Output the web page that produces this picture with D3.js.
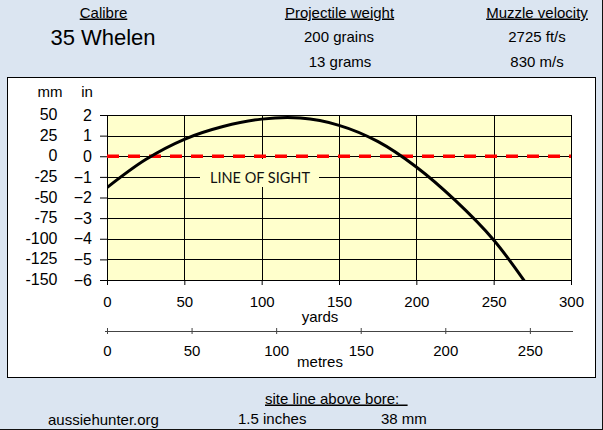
<!DOCTYPE html>
<html>
<head>
<meta charset="utf-8">
<script src="https://cdn.jsdelivr.net/npm/d3@7"></script>
<style>
  body { margin: 0; background: #dbe5f1; }
  svg { display: block; font-family: "Liberation Sans", Arial, sans-serif; }
</style>
</head>
<body>
<svg id="chart" width="603" height="430"></svg>
<script>
// trajectory (inches relative to line of sight)
const rangeYards = [0, 25, 50, 75, 100, 125, 150, 175, 200, 225, 250, 275];
const pathInches = [-1.52, -0.16, 0.82, 1.44, 1.80, 1.85, 1.50, 0.72, -0.52, -2.13, -4.06, -6.6];

const yardTicks = [0, 50, 100, 150, 200, 250, 300];
const metreTicks = [0, 50, 100, 150, 200, 250];
const inchTicks = [2, 1, 0, -1, -2, -3, -4, -5, -6];
const mmLabels = ["50", "25", "0", "-25", "-50", "-75", "-100", "-125", "-150"];

const calibre = "35 Whelen";
const weightLines = ["200 grains", "13 grams"];
const velocityLines = ["2725 ft/s", "830 m/s"];
const sightLine = ["1.5 inches", "38 mm"];

var svg = d3.select("#chart");

// outer frame
svg.append("rect").attr("x", 0).attr("y", 0).attr("width", 603).attr("height", 430).attr("fill", "#dbe5f1");
svg.append("line").attr("x1", 602.5).attr("x2", 602.5).attr("y1", 0).attr("y2", 430).attr("stroke", "#111");
svg.append("line").attr("x1", 0).attr("x2", 603).attr("y1", 429.5).attr("y2", 429.5).attr("stroke", "#111");

// header
function hdr(txt, x, y, size, underline) {
    svg.append("text")
        .attr("x", x).attr("y", y)
        .attr("text-anchor", "middle")
        .attr("font-size", size + "px")
        .attr("fill", "#000")
        .style("text-decoration", underline ? "underline" : null)
        .text(txt);
}
hdr("Calibre", 103.5, 17.5, 15, true);
hdr(calibre, 103, 45, 22, false);
hdr("Projectile weight", 339.5, 17.5, 15, true);
hdr(weightLines[0], 339, 42, 15, false);
hdr(weightLines[1], 340, 67, 15, false);
hdr("Muzzle velocity", 537, 17.5, 15, true);
hdr(velocityLines[0], 537, 42, 15, false);
hdr(velocityLines[1], 537, 67, 15, false);

// white panel
svg.append("rect")
    .attr("x", 7.5).attr("y", 77.5).attr("width", 588).attr("height", 300)
    .attr("fill", "#fff").attr("stroke", "#000");

var x = d3.scaleLinear().domain([0, 300]).range([107, 571]);
var xm = d3.scaleLinear().domain([0, 300 * 0.9144]).range([107, 571]);
var y = d3.scaleLinear().domain([-6, 2]).range([280, 115]);

// plot area
svg.append("rect")
    .attr("x", x(0)).attr("y", y(2))
    .attr("width", x(300) - x(0)).attr("height", y(-6) - y(2))
    .attr("fill", "#ffffcc");

svg.append("clipPath").attr("id", "clip")
    .append("rect")
    .attr("x", x(0)).attr("y", y(2))
    .attr("width", x(300) - x(0)).attr("height", y(-6) - y(2));

var grid = svg.append("g").attr("shape-rendering", "crispEdges");
grid.selectAll(".hg").data(inchTicks).enter().append("line")
    .attr("x1", x(0)).attr("x2", x(300))
    .attr("y1", d => Math.round(y(d)) + 0.5).attr("y2", d => Math.round(y(d)) + 0.5)
    .attr("stroke", "#000");
grid.selectAll(".vg").data(yardTicks).enter().append("line")
    .attr("x1", d => Math.round(x(d)) + 0.5).attr("x2", d => Math.round(x(d)) + 0.5)
    .attr("y1", y(2)).attr("y2", y(-6))
    .attr("stroke", "#000");

// line of sight
svg.append("line")
    .attr("x1", x(0)).attr("x2", x(300))
    .attr("y1", y(0)).attr("y2", y(0))
    .attr("stroke", "#ff0000").attr("stroke-width", 3.5)
    .attr("stroke-dasharray", "12,9");

svg.append("rect")
    .attr("x", 200).attr("y", 159).attr("width", 119).attr("height", 28)
    .attr("fill", "#ffffcc");
svg.append("text")
    .attr("x", 260).attr("y", 183)
    .attr("text-anchor", "middle")
    .attr("font-family", "Lato, 'Open Sans', sans-serif")
    .attr("font-size", "14.5px")
    .attr("fill", "#111")
    .text("LINE OF SIGHT");

// trajectory
var line = d3.line()
    .x((d, i) => x(rangeYards[i]))
    .y(d => y(d))
    .curve(d3.curveCatmullRom);
svg.append("path")
    .datum(pathInches)
    .attr("clip-path", "url(#clip)")
    .attr("d", line)
    .attr("fill", "none")
    .attr("stroke", "#000")
    .attr("stroke-width", 3);

// axes
var yAx = svg.append("g")
    .attr("transform", "translate(" + x(0) + ",0)")
    .call(d3.axisLeft(y).tickValues(inchTicks).tickSize(7).tickPadding(8).tickFormat(d3.format("d")));
yAx.select(".domain").remove();
yAx.selectAll("text").attr("font-size", "16px").attr("font-family", "Liberation Sans, Arial").attr("fill", "#000");
yAx.selectAll(".tick line").attr("stroke", "#000");

svg.selectAll(".mm").data(inchTicks).enter().append("text")
    .attr("x", 57.5).attr("y", d => y(d))
    .attr("dy", "0.32em")
    .attr("text-anchor", "end")
    .attr("font-size", "16px")
    .text((d, i) => mmLabels[i]);

svg.append("text").attr("x", 50).attr("y", 96.5).attr("text-anchor", "middle").attr("font-size", "15px").text("mm");
svg.append("text").attr("x", 87).attr("y", 96.5).attr("text-anchor", "middle").attr("font-size", "15px").text("in");

var xAx = svg.append("g")
    .attr("transform", "translate(0," + y(-6) + ")")
    .call(d3.axisBottom(x).tickValues(yardTicks).tickSize(5).tickPadding(11).tickFormat(d3.format("d")));
xAx.select(".domain").remove();
xAx.selectAll("text").attr("font-size", "15px").attr("font-family", "Liberation Sans, Arial").attr("fill", "#000");
xAx.selectAll(".tick line").attr("stroke", "#000");

svg.append("text").attr("x", 320).attr("y", 322).attr("text-anchor", "middle").attr("font-size", "15px").text("yards");

var mAx = svg.append("g")
    .attr("transform", "translate(0,331)")
    .call(d3.axisBottom(xm).tickValues(metreTicks).tickSizeInner(3).tickSizeOuter(0).tickPadding(11).tickFormat(d3.format("d")));
mAx.select(".domain").attr("stroke", "#444").attr("d", "M105,0.5H573");
mAx.selectAll(".tick line").attr("stroke", "#444").attr("y1", -3).attr("y2", 3);
mAx.selectAll("text").attr("font-size", "15px").attr("font-family", "Liberation Sans, Arial").attr("fill", "#000");

svg.append("text").attr("x", 320).attr("y", 367).attr("text-anchor", "middle").attr("font-size", "15px").text("metres");

// footer
svg.append("text").attr("x", 265).attr("y", 403.5).attr("font-size", "15px")
    .style("white-space", "pre").style("text-decoration", "underline")
    .text("site line above bore:  ");
svg.append("text").attr("x", 103.5).attr("y", 425).attr("text-anchor", "middle").attr("font-size", "15px").text("aussiehunter.org");
svg.append("text").attr("x", 238).attr("y", 424).attr("font-size", "15px").text(sightLine[0]);
svg.append("text").attr("x", 381).attr("y", 424).attr("font-size", "15px").text(sightLine[1]);
</script>
</body>
</html>
